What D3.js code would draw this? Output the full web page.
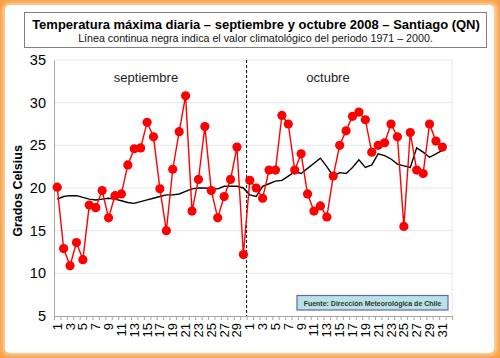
<!DOCTYPE html>
<html><head><meta charset="utf-8">
<script src="https://cdn.jsdelivr.net/npm/d3@7"></script>
<style>body{margin:0;background:#fff}svg{display:block}text{font-family:"Liberation Sans",Arial,sans-serif}</style>
</head><body><svg id="c" width="500" height="358"></svg>
<script>
const sepDays = d3.range(1,31);
const octDays = d3.range(1,32);
const sepMax = [20.1,12.9,10.9,13.6,11.6,18.0,17.7,19.7,16.5,19.1,19.3,22.7,24.6,24.7,27.7,26.0,19.9,15.0,22.2,26.6,30.8,17.3,21.0,27.2,19.7,16.5,19.0,21.0,24.8,12.2];
const octMax = [20.9,20.0,18.8,22.1,22.1,28.5,27.5,22.1,24.0,19.3,17.3,17.9,16.6,21.4,25.0,26.7,28.4,28.9,28.0,24.2,25.0,25.3,27.5,26.0,15.5,26.5,22.1,21.7,27.5,25.5,24.8];
const sepClim = [18.7,19.0,19.1,19.1,18.9,18.7,18.6,18.7,18.8,18.7,18.5,18.3,18.2,18.4,18.6,18.8,19.0,19.2,19.2,19.3,19.6,19.9,20.0,20.0,19.9,19.9,20.2,20.2,20.2,20.0];
const octClim = [19.2,19.0,20.2,20.5,20.8,20.9,21.4,21.9,21.7,22.3,22.9,23.5,22.5,21.4,21.8,21.7,22.4,23.3,22.4,22.7,24.0,23.8,23.4,22.8,22.6,22.4,24.7,24.2,23.6,24.0,24.4];
const yTicks = [5,10,15,20,25,30,35];
const title = "Temperatura máxima diaria – septiembre y octubre 2008 – Santiago (QN)";
const subtitle = "Línea continua negra indica el valor climatológico del periodo 1971 – 2000.";
const monthLabels = ["septiembre","octubre"];
const source = "Fuente: Dirección Meteorológica de Chile";
const yTitle = "Grados Celsius";

const cats = [...sepDays.map(d=>({m:0,d})), ...octDays.map(d=>({m:1,d}))];
const nSlots = cats.length + 1;
const maxVals = [...sepMax, ...octMax];
const climVals = [...sepClim, ...octClim];

const svg = d3.select("#c");
const defs = svg.append("defs");
const g1 = defs.append("filter").attr("id","blur").attr("x","-5%").attr("y","-5%").attr("width","110%").attr("height","110%");
g1.append("feGaussianBlur").attr("stdDeviation",2);
svg.append("rect").attr("width",500).attr("height",358).attr("fill","#f7a045");
svg.append("rect").attr("x",3).attr("y",3).attr("width",494).attr("height",352).attr("rx",6).attr("fill","#fcd6ac").attr("filter","url(#blur)");
svg.append("rect").attr("x",5).attr("y",5).attr("width",489).attr("height",348).attr("rx",5).attr("fill","#fff");

const L=54, R=452, T=60, B=316;
const x = d3.scaleBand().domain(d3.range(nSlots)).range([L,R]).padding(0);
const xb = d3.scaleLinear().domain([0,nSlots]).range([L,R]);
const y = d3.scaleLinear().domain([5,35]).range([B,T]);
const cx = i => x(i)+x.bandwidth()/2;

svg.append("g").selectAll("line").data(yTicks.filter(t=>t>5)).join("line")
  .attr("x1",L).attr("x2",R).attr("y1",d=>y(d)).attr("y2",d=>y(d))
  .attr("stroke","#e6e6e6").attr("stroke-width",1);
svg.append("line").attr("x1",R).attr("x2",R).attr("y1",T).attr("y2",B).attr("stroke","#e6e6e6");

const ya = svg.append("g").attr("transform",`translate(${L},0)`)
  .call(d3.axisLeft(y).tickValues(yTicks).tickSize(0).tickPadding(8));
ya.select(".domain").attr("stroke","#a6a6a6");
ya.selectAll("text").attr("font-size",14.5).attr("fill","#000").style("font-family","Liberation Sans, Arial, sans-serif");

const xa = svg.append("g").attr("transform",`translate(0,${B})`)
  .call(d3.axisBottom(xb).tickValues(d3.range(nSlots+1)).tickFormat("").tickSize(4));
xa.select(".domain").attr("stroke","#a6a6a6");
xa.selectAll(".tick line").attr("stroke","#a6a6a6");

svg.append("g").selectAll("text").data(cats.map((c,i)=>({...c,i})).filter(c=>c.d%2===1)).join("text")
  .attr("transform",c=>`translate(${cx(c.i)+4.5},${B+7}) rotate(-90)`)
  .attr("text-anchor","end").attr("font-size",13).attr("fill","#000").text(c=>c.d);

svg.append("text").attr("transform",`translate(22,191) rotate(-90)`).attr("text-anchor","middle")
  .attr("font-size",12.5).attr("font-weight","bold").text(yTitle);

svg.append("line").attr("x1",xb(sepDays.length)).attr("x2",xb(sepDays.length)).attr("y1",T).attr("y2",B)
  .attr("stroke","#000").attr("stroke-width",1).attr("stroke-dasharray","3,2");

svg.append("text").attr("x",146).attr("y",82).attr("text-anchor","middle").attr("font-size",13).attr("fill","#222").text(monthLabels[0]);
svg.append("text").attr("x",328).attr("y",82).attr("text-anchor","middle").attr("font-size",13).attr("fill","#222").text(monthLabels[1]);

svg.append("path").datum(climVals).attr("fill","none").attr("stroke","#000").attr("stroke-width",1.4)
  .attr("d",d3.line().x((d,i)=>cx(i)).y(d=>y(d)));

svg.append("path").datum(maxVals).attr("fill","none").attr("stroke","#ff0000").attr("stroke-width",1.4)
  .attr("d",d3.line().x((d,i)=>cx(i)).y(d=>y(d)));
svg.append("g").selectAll("circle").data(maxVals).join("circle")
  .attr("cx",(d,i)=>cx(i)).attr("cy",d=>y(d)).attr("r",4.6).attr("fill","#ff0000");

svg.append("rect").attr("x",297).attr("y",295.5).attr("width",151).attr("height",14.5)
  .attr("fill","#b9e2e4").attr("stroke","#6464b4").attr("stroke-width",1.2);
const ft = svg.append("text").attr("x",372.5).attr("y",305.8).attr("text-anchor","middle").attr("font-size",8)
  .attr("font-weight","bold").attr("fill","#333").text(source);
const fw = ft.node().getComputedTextLength();
if (fw>0) ft.attr("font-size",8*138/fw);

svg.append("rect").attr("x",24.5).attr("y",12.5).attr("width",462).attr("height",35)
  .attr("fill","#fff").attr("stroke","#7f7f7f").attr("stroke-width",1);
const tt = svg.append("text").attr("x",256).attr("y",28.5).attr("text-anchor","middle").attr("font-size",15)
  .attr("font-weight","bold").text(title);
const tw = tt.node().getComputedTextLength();
if (tw>0) tt.attr("font-size",15*448/tw);
const st = svg.append("text").attr("x",255.5).attr("y",42).attr("text-anchor","middle").attr("font-size",11.5).attr("fill","#111").text(subtitle);
const sw = st.node().getComputedTextLength();
if (sw>0) st.attr("font-size",11.5*355/sw);
</script></body></html>
